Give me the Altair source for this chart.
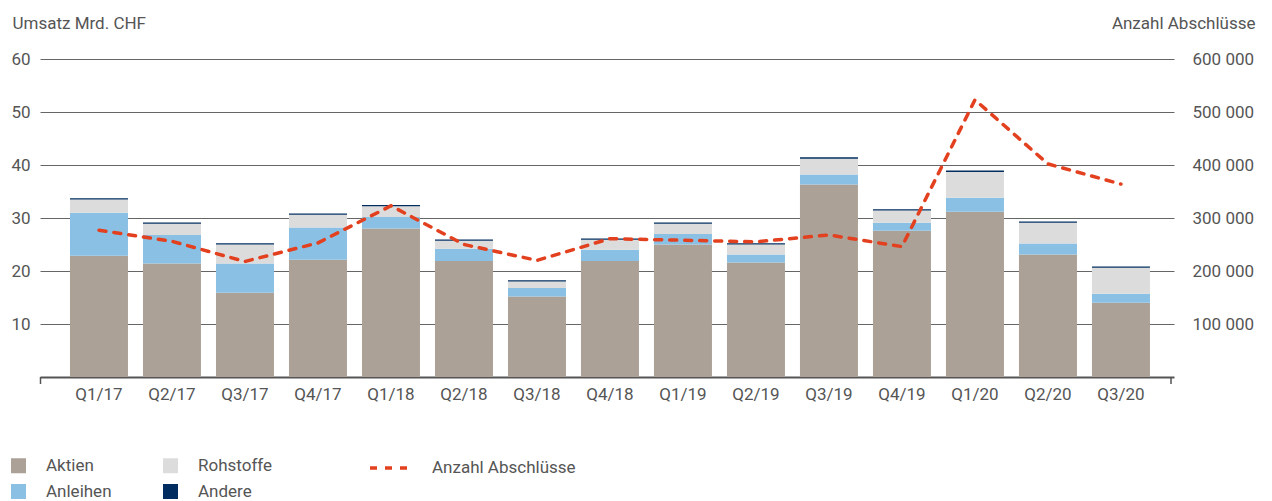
import altair as alt
import pandas as pd

quarters = ["Q1/17", "Q2/17", "Q3/17", "Q4/17", "Q1/18", "Q2/18", "Q3/18", "Q4/18",
            "Q1/19", "Q2/19", "Q3/19", "Q4/19", "Q1/20", "Q2/20", "Q3/20"]
aktien = [22.9, 21.4, 15.9, 22.1, 28.0, 21.9, 15.2, 21.9, 25.0, 21.6, 36.3, 27.6, 31.2, 23.1, 14.0]
anleihen = [8.1, 5.4, 5.5, 6.1, 2.2, 2.3, 1.6, 2.1, 2.0, 1.5, 1.9, 1.5, 2.6, 2.1, 1.7]
rohstoffe = [2.5, 2.1, 3.6, 2.4, 2.0, 1.5, 1.2, 1.9, 1.9, 1.9, 3.0, 2.3, 4.9, 3.9, 4.9]
andere = [0.25, 0.25, 0.25, 0.25, 0.25, 0.25, 0.25, 0.25, 0.25, 0.25, 0.25, 0.25, 0.25, 0.25, 0.25]
abschluesse = [277000, 256000, 218000, 253000, 323000, 250000, 220000, 261000,
               258000, 255000, 268000, 246000, 523000, 402000, 364000]

series_names = ["Aktien", "Anleihen", "Rohstoffe", "Andere"]
series_values = [aktien, anleihen, rohstoffe, andere]
legend_order = ["Aktien", "Rohstoffe", "Anleihen", "Andere"]
colors = ["#aba197", "#dcdcdc", "#8ac0e3", "#002c5f"]

rows = []
for k, (name, vals) in enumerate(zip(series_names, series_values)):
    for q, v in zip(quarters, vals):
        rows.append({"Quartal": q, "Kategorie": name, "Umsatz": v, "ord": k})
bars_df = pd.DataFrame(rows)
line_df = pd.DataFrame({"Quartal": quarters, "Anzahl": abschluesse})

FONT = "Roboto"
TXT = "#555555"
W, H = 1134, 318

xscale = alt.Scale(domain=quarters, paddingInner=0.2055, paddingOuter=0.37, align=0.555)
xaxis = alt.Axis(title=None, ticks=False, labelPadding=9, domainColor="#555555",
                 domainWidth=2, labelAngle=0)

bars = alt.Chart(bars_df).mark_bar().encode(
    x=alt.X("Quartal:N", scale=xscale, axis=xaxis, sort=quarters),
    y=alt.Y("Umsatz:Q", stack="zero",
            scale=alt.Scale(domain=[0, 60], nice=False),
            axis=alt.Axis(title="Umsatz Mrd. CHF", orient="left", values=[10, 20, 30, 40, 50, 60],
                          grid=True, gridColor="#666666", gridWidth=1, domain=False, ticks=False,
                          labelPadding=10, titleAngle=0, titleX=-28, titleY=-31,
                          titleAlign="left", titleBaseline="alphabetic")),
    color=alt.Color("Kategorie:N",
                    scale=alt.Scale(domain=legend_order, range=colors),
                    legend=alt.Legend(title=None, orient="none", legendX=-30, legendY=398,
                                      columns=2, direction="horizontal", symbolType="square",
                                      symbolSize=225, labelOffset=19, columnPadding=50,
                                      rowPadding=8, symbolStrokeWidth=0)),
    order=alt.Order("ord:Q", sort="ascending"),
)

line = alt.Chart(line_df).mark_line(color="#e2401e", strokeWidth=3.5, strokeCap="round").encode(
    x=alt.X("Quartal:N", scale=xscale, axis=xaxis, sort=quarters),
    y=alt.Y("Anzahl:Q", scale=alt.Scale(domain=[0, 600000], nice=False),
            axis=alt.Axis(title="Anzahl Abschlüsse", orient="right",
                          values=[100000, 200000, 300000, 400000, 500000, 600000],
                          labelExpr="format(datum.value / 1000, 'd') + ' 000'",
                          grid=False, domain=False, ticks=False, labelPadding=18,
                          labelAlign="left", titleAngle=0, titleX=81, titleY=-31,
                          titleAlign="right", titleBaseline="alphabetic")),
    strokeDash=alt.StrokeDash("s:N",
                              scale=alt.Scale(domain=["Anzahl Abschlüsse"], range=[[7, 8]]),
                              legend=alt.Legend(title=None, orient="none", legendX=328, legendY=385,
                                                symbolType="stroke", symbolSize=1936,
                                                symbolStrokeColor="#e2401e", symbolStrokeWidth=3.5,
                                                labelOffset=16)),
).transform_calculate(s="'Anzahl Abschlüsse'")

tick_l = alt.Chart(alt.Data(values=[{"a": 1}])).mark_rule(color="#555555", strokeWidth=1.5).encode(
    x=alt.value(0.5), y=alt.value(H), y2=alt.value(H + 7))
tick_r = alt.Chart(alt.Data(values=[{"a": 1}])).mark_rule(color="#555555", strokeWidth=1.5).encode(
    x=alt.value(W - 3), y=alt.value(H), y2=alt.value(H + 7))

chart = alt.layer(bars, line, tick_l, tick_r).resolve_scale(
    y="independent", color="independent", strokeDash="independent"
).properties(
    width=W, height=H,
    autosize=alt.AutoSizeParams(type="none"),
    padding={"left": 32, "top": 51, "right": 90, "bottom": 130},
).configure_view(stroke=None).configure_axis(
    labelFont=FONT, labelFontSize=17, labelColor=TXT,
    titleFont=FONT, titleFontSize=17, titleColor=TXT, titleFontWeight="normal",
).configure_legend(
    labelFont=FONT, labelFontSize=17, labelColor=TXT,
)

chart.save("out.html", embed_options={"renderer": "svg", "actions": False})
